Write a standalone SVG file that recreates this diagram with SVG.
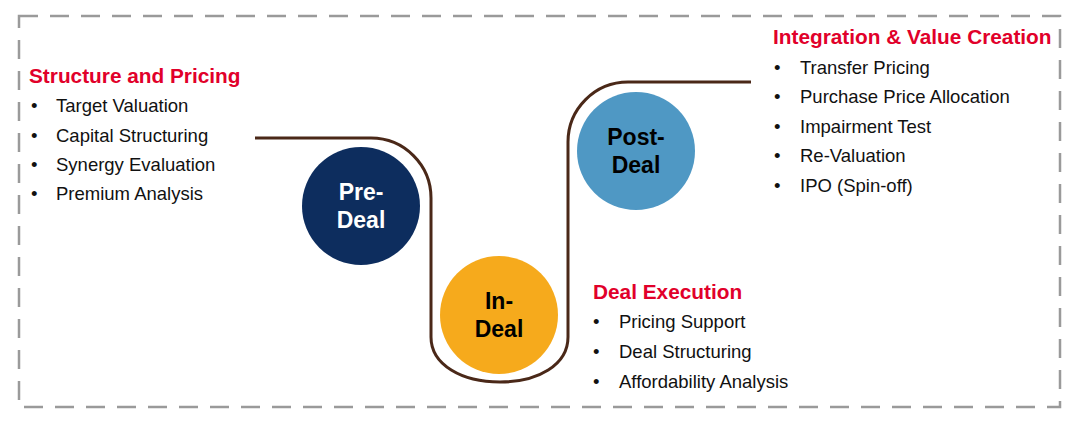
<svg xmlns="http://www.w3.org/2000/svg" width="1090" height="426" viewBox="0 0 1090 426">
<style>
.head{font-family:"Liberation Sans",Arial,sans-serif;font-weight:bold;font-size:20.8px;fill:#e1002a}
.item{font-family:"Liberation Sans",Arial,sans-serif;font-size:18.5px;fill:#111}
.lbl{font-family:"Liberation Sans",Arial,sans-serif;font-weight:bold;font-size:23px;text-anchor:middle}
.conn{fill:none;stroke:#4a2818;stroke-width:3}
</style>
<rect x="0" y="0" width="1090" height="426" fill="#fff"/>
<rect x="19" y="16" width="1041" height="391" fill="none" stroke="#9a9a9a" stroke-width="2.5" stroke-dasharray="19,12"/>
<g id="connectors">
<path class="conn" d="M255,138 H371 A60,60 0 0 1 431,198 V337 C431,365 462,382 500,382 C538,382 568,365 568,337 V142 A60,60 0 0 1 628,82 H751"/>
</g>
<g id="pre-deal">
<circle cx="361" cy="206" r="59" fill="#0d2d5e"/>
<text class="lbl" x="361" y="200" fill="#fff">Pre-</text>
<text class="lbl" x="361" y="228" fill="#fff">Deal</text>
</g>
<g id="in-deal">
<circle cx="499" cy="315" r="59" fill="#f6aa1c"/>
<text class="lbl" x="499" y="309" fill="#000">In-</text>
<text class="lbl" x="499" y="337" fill="#000">Deal</text>
</g>
<g id="post-deal">
<circle cx="636" cy="151" r="59" fill="#4f98c4"/>
<text class="lbl" x="636" y="145" fill="#000">Post-</text>
<text class="lbl" x="636" y="173" fill="#000">Deal</text>
</g>
<g id="structure-pricing">
<text class="head" x="29" y="83">Structure and Pricing</text>
<text class="item" x="31" y="112">•</text><text class="item" x="56" y="112">Target Valuation</text>
<text class="item" x="31" y="142">•</text><text class="item" x="56" y="142">Capital Structuring</text>
<text class="item" x="31" y="171">•</text><text class="item" x="56" y="171">Synergy Evaluation</text>
<text class="item" x="31" y="200">•</text><text class="item" x="56" y="200">Premium Analysis</text>
</g>
<g id="integration">
<text class="head" x="773" y="44">Integration &amp; Value Creation</text>
<text class="item" x="774" y="74">•</text><text class="item" x="800" y="74">Transfer Pricing</text>
<text class="item" x="774" y="103">•</text><text class="item" x="800" y="103">Purchase Price Allocation</text>
<text class="item" x="774" y="133">•</text><text class="item" x="800" y="133">Impairment Test</text>
<text class="item" x="774" y="162">•</text><text class="item" x="800" y="162">Re-Valuation</text>
<text class="item" x="774" y="192">•</text><text class="item" x="800" y="192">IPO (Spin-off)</text>
</g>
<g id="deal-execution">
<text class="head" x="593" y="299">Deal Execution</text>
<text class="item" x="593" y="328">•</text><text class="item" x="619" y="328">Pricing Support</text>
<text class="item" x="593" y="358">•</text><text class="item" x="619" y="358">Deal Structuring</text>
<text class="item" x="593" y="388">•</text><text class="item" x="619" y="388">Affordability Analysis</text>
</g>
</svg>
